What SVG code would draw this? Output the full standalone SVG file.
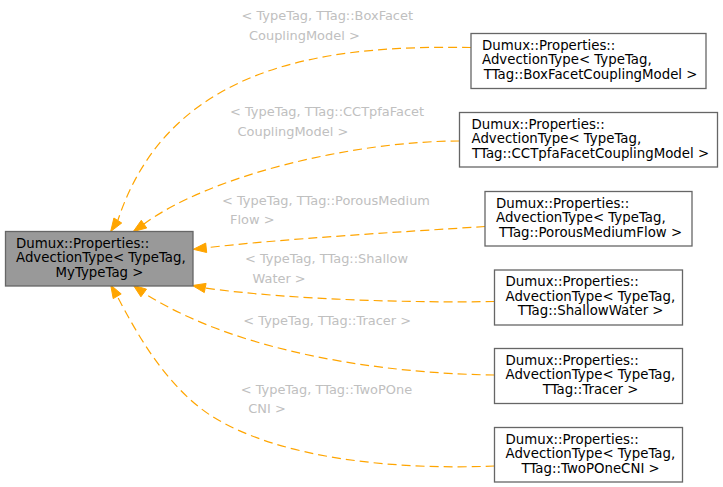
<svg xmlns="http://www.w3.org/2000/svg" width="723" height="487" viewBox="0 0 723 487">
<style>
text{font-family:"DejaVu Sans","Liberation Sans",sans-serif;font-size:13.33px;fill:#000}
.lbl{fill:#c0c0c0;font-size:12.95px}
.mid{text-anchor:middle}
.box{fill:#fff;stroke:#666;stroke-width:1.3}
.main{fill:#999;stroke:#666;stroke-width:1.3}
.edge{fill:none;stroke:#ffa500;stroke-width:1.2;stroke-dasharray:9,5}
.arrow{fill:#ffa500;stroke:#ffa500;stroke-width:1}
</style>
<rect width="723" height="487" fill="#fff"/>
<g id="connectors">
<path class="edge" d="M471,47.5 C330,45 170,62 117.8,220.5"/>
<polygon class="arrow" points="121.7,223 110.7,231.5 113.9,218"/>
<path class="edge" d="M459.5,141 C355,141 210,175 144,224.1"/>
<polygon class="arrow" points="146.7,228 133.3,231.5 141.3,220.3"/>
<path class="edge" d="M485,226.5 C400,232 280,239 206.2,247.8"/>
<polygon class="arrow" points="206.7,252.5 193.3,249.3 205.7,243.1"/>
<path class="edge" d="M494.5,301.5 C420,303 290,300 205.2,288"/>
<polygon class="arrow" points="206.1,283.4 192.5,285.5 204.3,292.6"/>
<path class="edge" d="M494.5,375 C410,374 250,360 143.7,293"/>
<polygon class="arrow" points="146.5,289.2 133.3,285.2 140.9,296.8"/>
<path class="edge" d="M494.5,466 C400,470 280,460 210,415 C165,385 136,332 117.2,296.2"/>
<polygon class="arrow" points="121.2,293.9 110.7,285 113.2,298.6"/>
<text class="lbl" x="241.5" y="20">&lt; TypeTag, TTag::BoxFacet</text>
<text class="lbl" x="249" y="39.5">CouplingModel &gt;</text>
<text class="lbl" x="230" y="116">&lt; TypeTag, TTag::CCTpfaFacet</text>
<text class="lbl" x="237.5" y="135.5">CouplingModel &gt;</text>
<text class="lbl" x="222" y="204.5">&lt; TypeTag, TTag::PorousMedium</text>
<text class="lbl" x="230" y="224">Flow &gt;</text>
<text class="lbl" x="245" y="262.8">&lt; TypeTag, TTag::Shallow</text>
<text class="lbl" x="252.5" y="282.5">Water &gt;</text>
<text class="lbl" x="243.3" y="324.5">&lt; TypeTag, TTag::Tracer &gt;</text>
<text class="lbl" x="240.7" y="393.5">&lt; TypeTag, TTag::TwoPOne</text>
<text class="lbl" x="248.3" y="413">CNI &gt;</text>
</g>
<g id="node-main">
<rect class="main" x="5.5" y="231.5" width="187.5" height="54.5"/>
<text x="16" y="247.5">Dumux::Properties::</text>
<text x="16" y="262">AdvectionType&lt; TypeTag,</text>
<text class="mid" x="99.5" y="276.5">MyTypeTag &gt;</text>
</g>
<g id="node-boxfacet">
<rect class="box" x="471" y="33.5" width="235" height="55"/>
<text x="482" y="49.5">Dumux::Properties::</text>
<text x="482" y="64">AdvectionType&lt; TypeTag,</text>
<text class="mid" x="588.5" y="78.5">&#160;TTag::BoxFacetCouplingModel &gt;</text>
</g>
<g id="node-cctpfa">
<rect class="box" x="459.5" y="112.5" width="258" height="54.5"/>
<text x="471.5" y="128.5">Dumux::Properties::</text>
<text x="471.5" y="143">AdvectionType&lt; TypeTag,</text>
<text class="mid" x="588.5" y="157.5">&#160;TTag::CCTpfaFacetCouplingModel &gt;</text>
</g>
<g id="node-porous">
<rect class="box" x="485" y="191.5" width="207" height="54.5"/>
<text x="496" y="207.5">Dumux::Properties::</text>
<text x="496" y="222">AdvectionType&lt; TypeTag,</text>
<text class="mid" x="588.5" y="236.5">&#160;TTag::PorousMediumFlow &gt;</text>
</g>
<g id="node-shallow">
<rect class="box" x="494.5" y="270" width="188" height="55"/>
<text x="505.5" y="286">Dumux::Properties::</text>
<text x="505.5" y="300.5">AdvectionType&lt; TypeTag,</text>
<text class="mid" x="588.5" y="315">&#160;TTag::ShallowWater &gt;</text>
</g>
<g id="node-tracer">
<rect class="box" x="494.5" y="348.5" width="188" height="55"/>
<text x="505.5" y="364.5">Dumux::Properties::</text>
<text x="505.5" y="379">AdvectionType&lt; TypeTag,</text>
<text class="mid" x="588.5" y="393.5">&#160;TTag::Tracer &gt;</text>
</g>
<g id="node-twopone">
<rect class="box" x="494.5" y="427.5" width="188" height="54.5"/>
<text x="505.5" y="443.5">Dumux::Properties::</text>
<text x="505.5" y="458">AdvectionType&lt; TypeTag,</text>
<text class="mid" x="588.5" y="472.5">&#160;TTag::TwoPOneCNI &gt;</text>
</g>
</svg>
